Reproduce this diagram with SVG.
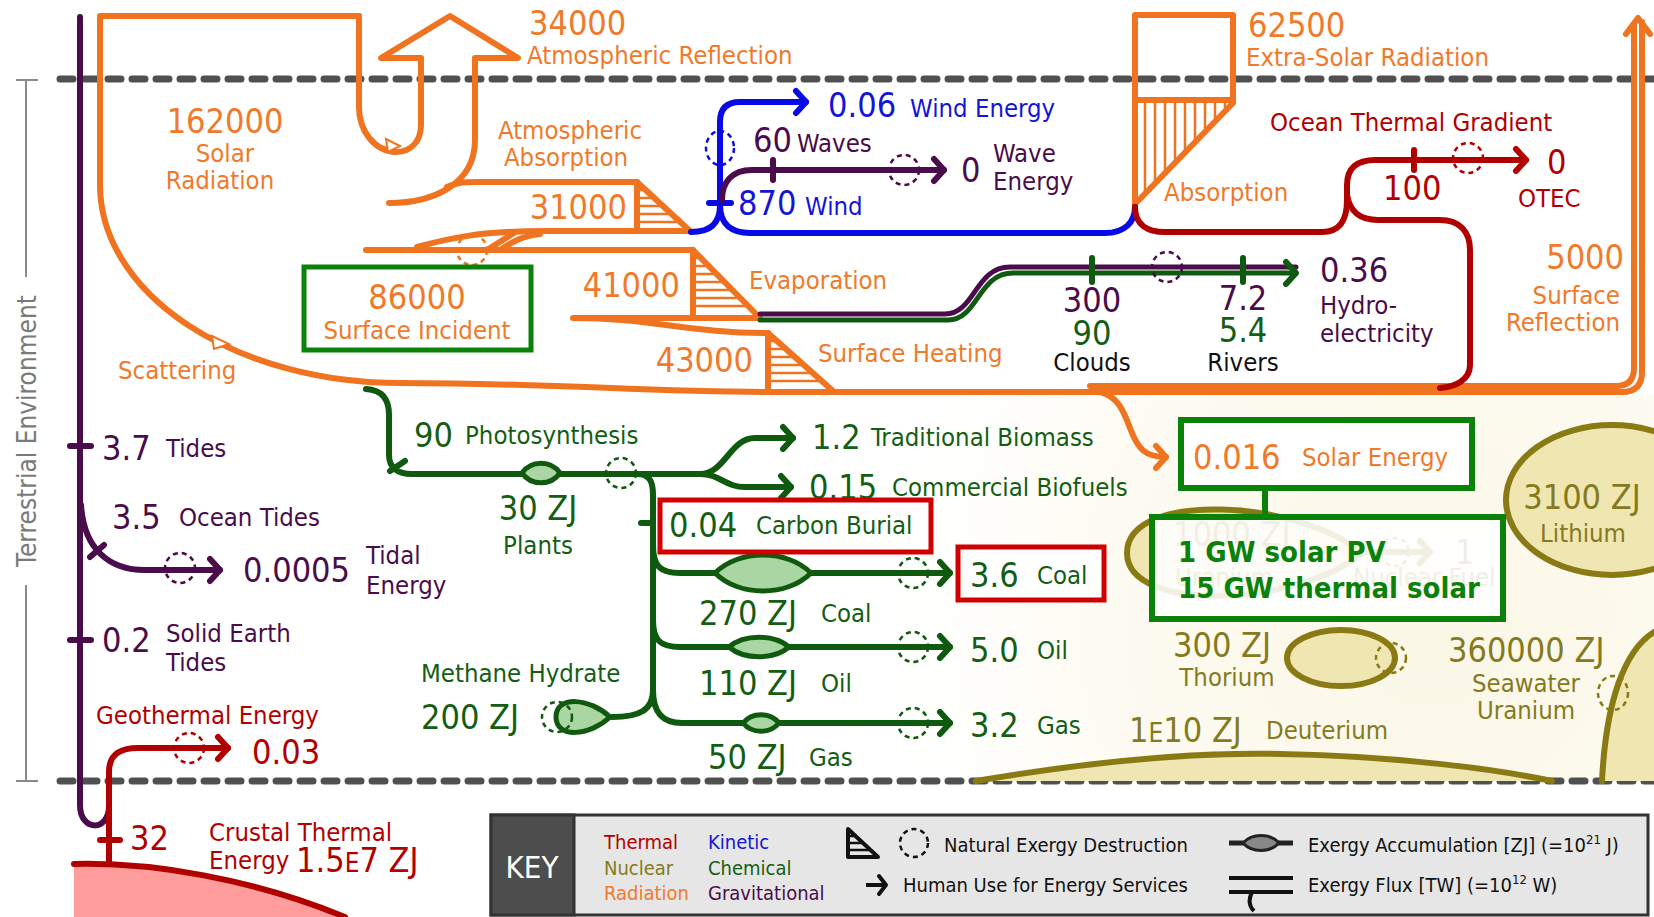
<svg xmlns="http://www.w3.org/2000/svg" width="1654" height="917" viewBox="0 0 1654 917">
<defs>
<style>
text{font-family:"DejaVu Sans Condensed","DejaVu Sans",sans-serif}
.L{font-size:25.5px}.N{font-size:34px}.K{font-size:20px}.B{font-size:29px;font-weight:bold}
.fo{fill:#f07a2a}.fr{fill:#b20000}.fb{fill:#1414d8}.fp{fill:#4a0c4a}.fg{fill:#145e14}.fn{fill:#857a20}.fk{fill:#111}.fw{fill:#fff}
.ln{fill:none;stroke-width:6;stroke-linecap:round;stroke-linejoin:round}
.so{stroke:#f07320}.sr{stroke:#b00000}.sb{stroke:#0a0ae6}.sp{stroke:#4a0c4a}.sg{stroke:#0f5a0f}.sn{stroke:#8a7a14}.sk{stroke:#111}
.dc{fill:none;stroke-width:2.5;stroke-dasharray:5 4}
.ht{fill:none;stroke-width:2.5}
.lens{fill:#a9d6a2;stroke:#0f5a0f;stroke-width:5}
.nuc{fill:#efe6b2;stroke:#8a7a14;stroke-width:6}
.mid{text-anchor:middle}.end{text-anchor:end}
</style>
<marker id="ao" viewBox="-14 -14 18 28" markerWidth="18" markerHeight="28" orient="auto" markerUnits="userSpaceOnUse" overflow="visible"><path d="M-10,-11 L0,0 L-10,11" fill="none" stroke="#f07320" stroke-width="6" stroke-linecap="round" stroke-linejoin="round"/></marker>
<marker id="ar" viewBox="-14 -14 18 28" markerWidth="18" markerHeight="28" orient="auto" markerUnits="userSpaceOnUse" overflow="visible"><path d="M-10,-11 L0,0 L-10,11" fill="none" stroke="#b00000" stroke-width="6" stroke-linecap="round" stroke-linejoin="round"/></marker>
<marker id="ab" viewBox="-14 -14 18 28" markerWidth="18" markerHeight="28" orient="auto" markerUnits="userSpaceOnUse" overflow="visible"><path d="M-10,-11 L0,0 L-10,11" fill="none" stroke="#0a0ae6" stroke-width="6" stroke-linecap="round" stroke-linejoin="round"/></marker>
<marker id="ap" viewBox="-14 -14 18 28" markerWidth="18" markerHeight="28" orient="auto" markerUnits="userSpaceOnUse" overflow="visible"><path d="M-10,-11 L0,0 L-10,11" fill="none" stroke="#4a0c4a" stroke-width="6" stroke-linecap="round" stroke-linejoin="round"/></marker>
<marker id="ag" viewBox="-14 -14 18 28" markerWidth="18" markerHeight="28" orient="auto" markerUnits="userSpaceOnUse" overflow="visible"><path d="M-10,-11 L0,0 L-10,11" fill="none" stroke="#0f5a0f" stroke-width="6" stroke-linecap="round" stroke-linejoin="round"/></marker>
<marker id="an" viewBox="-14 -14 18 28" markerWidth="18" markerHeight="28" orient="auto" markerUnits="userSpaceOnUse" overflow="visible"><path d="M-10,-11 L0,0 L-10,11" fill="none" stroke="#8a7a14" stroke-width="6" stroke-linecap="round" stroke-linejoin="round"/></marker>
<marker id="ak" viewBox="-14 -14 18 28" markerWidth="18" markerHeight="28" orient="auto" markerUnits="userSpaceOnUse" overflow="visible"><path d="M-7,-9 L0,0 L-7,9" fill="none" stroke="#111" stroke-width="4" stroke-linecap="round" stroke-linejoin="round"/></marker>
<radialGradient id="cream" cx="1430" cy="620" r="620" gradientUnits="userSpaceOnUse"><stop offset="0" stop-color="#fbf7e6"/><stop offset="0.55" stop-color="#fdfbf2"/><stop offset="1" stop-color="#ffffff" stop-opacity="0"/></radialGradient>
</defs>
<rect width="1654" height="917" fill="#fff"/>
<rect x="800" y="395" width="854" height="386" fill="url(#cream)"/>

<!-- boundaries -->
<g id="boundaries">
<path d="M60,79 H1654 M60,781 H1654" stroke="#505050" stroke-width="7" stroke-dasharray="13 11" stroke-linecap="round" fill="none"/>
<path d="M26,80 V277 M26,585 V781 M16,80 H38 M16,781 H38" stroke="#8a8a8a" stroke-width="2" fill="none"/>
<text class="mid" transform="translate(36,431) rotate(-90)" font-size="26" fill="#7a7a7a">Terrestrial Environment</text>
</g>

<!-- nuclear stocks -->
<g id="deuterium">
<path d="M976,781 C1100,760 1200,752 1281,754 C1400,756 1500,770 1552,781 Z" fill="#efe6b2"/>
<path class="ln sn" d="M976,781 C1100,760 1200,752 1281,754 C1400,756 1500,770 1552,781"/>
<text class="N fn" x="1129" y="742">1<tspan font-size="26">E</tspan>10 ZJ</text>
<text class="L fn" x="1266" y="739">Deuterium</text>
</g>
<g id="seawater-uranium">
<path d="M1602,781 C1606,700 1625,650 1654,632 V781 Z" fill="#efe6b2"/>
<path class="ln sn" d="M1602,781 C1606,700 1625,650 1654,632"/>
<ellipse class="dc sn" cx="1613" cy="693" rx="15" ry="17"/>
<text class="N fn" x="1448" y="662">360000 ZJ</text>
<text class="L fn mid" x="1526" y="692">Seawater</text>
<text class="L fn mid" x="1526" y="719">Uranium</text>
</g>
<g id="thorium">
<ellipse class="nuc" cx="1341" cy="658" rx="54" ry="28"/>
<circle class="dc sn" cx="1391" cy="658" r="15"/>
<text class="N fn" x="1173" y="657">300 ZJ</text>
<text class="L fn mid" x="1227" y="686">Thorium</text>
</g>
<g id="lithium">
<ellipse class="nuc" cx="1612" cy="500" rx="106" ry="75"/>
<text class="N fn mid" x="1582" y="509">3100 ZJ</text>
<text class="L fn mid" x="1583" y="542">Lithium</text>
</g>
<g id="uranium">
<path class="nuc" d="M1127,553 C1127,490 1300,500 1362,553 C1300,606 1127,614 1127,553 Z"/>
<circle class="dc sn" cx="1395" cy="552" r="14"/>
<path class="ln sn" d="M1362,552 H1430" marker-end="url(#an)"/>
<text class="N fn" x="1173" y="546">1000 ZJ</text>
<text class="L fn" x="1175" y="586">Uranium</text>
<text class="N fn" x="1455" y="564">1</text>
<text class="L fn" x="1353" y="586">Nuclear Fuel</text>
</g>

<!-- crust -->
<g id="crust">
<path d="M74,864 C150,862 250,878 345,917 L74,917 Z" fill="#ff9c9c"/>
<path class="ln sr" d="M74,864 C150,862 250,878 345,917"/>
<text class="L fr" x="209" y="841">Crustal Thermal</text>
<text class="L fr" x="209" y="869">Energy</text>
<text class="N fr" x="296" y="872">1.5<tspan font-size="26">E</tspan>7 ZJ</text>
</g>

<!-- connectors -->
<g id="connectors">
<path class="ln so" d="M359,16 H100 V185 A300 198 0 0 0 400,383 C560,383 640,392 770,392 H1622 Q1642,392 1642,372 V22"/>
<path class="ln so" d="M1090,386 H1616 Q1634,386 1634,368 V24"/>
<path class="ln so" d="M1626,34 L1638,18 L1650,34"/>
<path class="ln so" d="M359,16 V107 C359,132 375,151 396,152 C412,152 421,140 421,125 V58 H381 L450,16 L518,58 H475 V140 C475,185 432,203 389,203"/>
<path class="ln so" d="M447,187 C455,183 462,182 478,182 H637"/>
<path class="ln so" d="M637,182 V231 M637,182 L690,231 H547 C480,231 450,238 417,247"/>
<path class="ht so" d="M637,190 H645.7 M637,198 H654.3 M637,206 H663 M637,214 H671.6 M637,222 H680.3"/>
<path class="ln so" d="M487,250 L514,233 M500,250 C512,242 522,236 540,234"/>
<path class="ln so" d="M366,250 H693"/>
<circle class="dc so" cx="472" cy="250" r="15"/>
<path class="ln so" d="M693,250 V317 M693,250 L760,318 H573 C650,318 690,333 768,333"/>
<path class="ht so" d="M693,258 H701 M693,266 H709 M693,274 H717 M693,282 H725 M693,290 H733 M693,298 H741 M693,306 H749"/>
<path class="ln so" d="M768,333 V391 M768,333 L833,391"/>
<path class="ht so" d="M768,341 H777 M768,349 H786 M768,357 H795 M768,365 H804 M768,373 H813 M768,381 H822"/>
<polygon points="386,139 400,146 388,152" fill="#fff" stroke="#f07320" stroke-width="2"/>
<polygon points="212,336 229,344 214,349" fill="#fff" stroke="#f07320" stroke-width="2"/>
<path class="ln so" d="M1100,392 C1118,396 1124,412 1130,428 C1138,450 1146,457 1166,457" marker-end="url(#ao)"/>
<path class="ln so" d="M1135,207 V15 H1233 V103 L1137,202 M1135,100 H1233"/>
<path class="ht so" d="M1145,100 V192 M1155,100 V182 M1165,100 V171 M1175,100 V161 M1185,100 V150 M1195,100 V140 M1205,100 V129 M1215,100 V119 M1225,100 V108"/>
<path class="ln sb" d="M691,232 C712,232 720,222 720,205 V122 Q720,102 740,102 H806" marker-end="url(#ab)"/>
<path class="ln sb" d="M720,205 C720,225 732,233 750,233 H1105 C1125,233 1135,222 1135,207"/>
<path class="ln sb" d="M709,203 H731"/>
<ellipse class="dc sb" cx="720" cy="148" rx="14" ry="17"/>
<path class="ln sp" d="M722,200 C722,182 732,170 752,170 H944" marker-end="url(#ap)"/>
<path class="ln sp" d="M773,160 V180"/>
<circle class="dc sp" cx="904" cy="170" r="15"/>
<path class="ln sr" d="M1135,207 C1135,225 1148,232 1165,232 H1322 C1340,232 1347,220 1347,200 V185 C1347,168 1357,160 1375,160 H1526" marker-end="url(#ar)"/>
<path class="ln sr" d="M1347,195 C1350,212 1360,220 1378,220 H1440 C1460,220 1470,232 1470,250 V365 C1470,380 1455,387 1440,388"/>
<path class="ln sr" d="M1414,150 V170"/>
<circle class="dc sr" cx="1468" cy="158" r="15"/>
<path class="ln sp" style="stroke-width:5" d="M760,314 H945 C975,314 975,267 1010,267 H1296"/>
<path class="ln sg" style="stroke-width:5" d="M760,320 H948 C978,320 978,273 1013,273 H1296" marker-end="url(#ag)"/>
<path class="ln sg" d="M1092,258 V282 M1243,258 V282"/>
<circle class="dc sp" cx="1167" cy="267" r="15"/>
<path class="ln sp" d="M80,17 V805 C80,832 109,832 109,806"/>
<path class="ln sp" d="M70,446 H91 M70,640 H91 M90,557 L104,545"/>
<path class="ln sp" d="M81,505 C84,550 110,570 145,570 H220" marker-end="url(#ap)"/>
<circle class="dc sp" cx="180" cy="568" r="15"/>
<path class="ln sr" d="M109,864 V772 C109,756 118,748 138,748 H228" marker-end="url(#ar)"/>
<path class="ln sr" d="M100,840 H120"/>
<circle class="dc sr" cx="189" cy="748" r="15"/>
<path class="ln sg" d="M366,389 C383,390 389,400 389,415 V455 C389,468 398,474 412,474 H700"/>
<path class="ln sg" d="M390,471 L405,461"/>
<path class="ln sg" d="M700,474 C725,474 730,438 755,438 H793" marker-end="url(#ag)"/>
<path class="ln sg" d="M700,474 C720,474 725,487 745,487 H791" marker-end="url(#ag)"/>
<path class="ln sg" d="M637,474 C650,474 653,482 653,495 V690"/>
<path class="ln sg" d="M641,523 H653"/>
<path class="ln sg" d="M653,545 C653,566 660,573 680,573 H950" marker-end="url(#ag)"/>
<path class="ln sg" d="M653,620 C653,640 660,647 680,647 H950" marker-end="url(#ag)"/>
<path class="ln sg" d="M653,690 C653,712 662,723 682,723 H950" marker-end="url(#ag)"/>
<path class="ln sg" d="M653,690 C653,710 640,717 612,717"/>
<circle class="dc sg" cx="621" cy="473" r="15"/>
<circle class="dc sg" cx="913" cy="573" r="15"/>
<circle class="dc sg" cx="913" cy="647" r="15"/>
<circle class="dc sg" cx="913" cy="723" r="15"/>
<path class="ln sg" d="M1265,488 V517" style="stroke:#0a820a"/>
</g>

<!-- accumulations -->
<g id="plants"><path class="lens" d="M522,473 C531,460 551,460 560,473 C551,486 531,486 522,473 Z"/>
<text class="N fg mid" x="538" y="520">30 ZJ</text><text class="L fg mid" x="538" y="554">Plants</text></g>
<g id="coal-stock"><path class="lens" d="M715,573 C739,549 787,549 811,573 C787,597 739,597 715,573 Z"/>
<text class="N fg" x="699" y="625">270 ZJ</text><text class="L fg" x="821" y="622">Coal</text></g>
<g id="oil-stock"><path class="lens" d="M729,647 C744,634 774,634 789,647 C774,660 744,660 729,647 Z"/>
<text class="N fg" x="699" y="695">110 ZJ</text><text class="L fg" x="821" y="692">Oil</text></g>
<g id="gas-stock"><path class="lens" d="M743,723 C752,712 770,712 779,723 C770,734 752,734 743,723 Z"/>
<text class="N fg" x="708" y="769">50 ZJ</text><text class="L fg" x="809" y="766">Gas</text></g>
<g id="methane"><path class="lens" d="M556,717 C556,695 590,698 610,717 C590,736 556,739 556,717 Z"/>
<circle class="dc sg" cx="557" cy="717" r="15"/>
<text class="L fg" x="421" y="682">Methane Hydrate</text><text class="N fg" x="421" y="729">200 ZJ</text></g>

<!-- labels -->
<g id="solar-radiation"><text class="N fo mid" x="225" y="133">162000</text><text class="L fo mid" x="225" y="162">Solar</text><text class="L fo mid" x="220" y="189">Radiation</text></g>
<g id="atm-reflection"><text class="N fo" x="529" y="35">34000</text><text class="L fo" x="527" y="64">Atmospheric Reflection</text></g>
<g id="atm-absorption"><text class="L fo mid" x="570" y="139">Atmospheric</text><text class="L fo mid" x="566" y="166">Absorption</text><text class="N fo end" x="627" y="219">31000</text></g>
<g id="surface-incident"><rect x="304" y="267" width="227" height="83" fill="#fff" stroke="#0a820a" stroke-width="5"/>
<text class="N fo mid" x="417" y="309">86000</text><text class="L fo mid" x="417" y="339">Surface Incident</text></g>
<g id="evaporation"><text class="N fo end" x="680" y="297">41000</text><text class="L fo" x="749" y="289">Evaporation</text></g>
<g id="surface-heating"><text class="N fo end" x="753" y="372">43000</text><text class="L fo" x="818" y="362">Surface Heating</text></g>
<g id="scattering"><text class="L fo" x="118" y="379">Scattering</text></g>
<g id="extra-solar"><text class="N fo" x="1248" y="37">62500</text><text class="L fo" x="1246" y="66">Extra-Solar Radiation</text><text class="L fo" x="1164" y="201">Absorption</text></g>
<g id="surface-reflection"><text class="N fo end" x="1624" y="269">5000</text><text class="L fo end" x="1620" y="304">Surface</text><text class="L fo end" x="1620" y="331">Reflection</text></g>
<g id="wind-energy"><text class="N fb" x="828" y="117">0.06</text><text class="L fb" x="910" y="117">Wind Energy</text></g>
<g id="wind"><text class="N fb" x="738" y="215">870</text><text class="L fb" x="805" y="215">Wind</text></g>
<g id="waves"><text class="N fp" x="753" y="152">60</text><text class="L fp" x="797" y="152">Waves</text></g>
<g id="wave-energy"><text class="N fp" x="961" y="182">0</text><text class="L fp" x="993" y="162">Wave</text><text class="L fp" x="993" y="190">Energy</text></g>
<g id="ocean-thermal"><text class="L fr" x="1270" y="131">Ocean Thermal Gradient</text><text class="N fr" x="1383" y="200">100</text><text class="N fr" x="1547" y="174">0</text><text class="L fr" x="1518" y="207">OTEC</text></g>
<g id="clouds"><text class="N fp mid" x="1092" y="312">300</text><text class="N fg mid" x="1092" y="345">90</text><text class="L fk mid" x="1092" y="371">Clouds</text></g>
<g id="rivers"><text class="N fp mid" x="1243" y="310">7.2</text><text class="N fg mid" x="1243" y="342">5.4</text><text class="L fk mid" x="1243" y="371">Rivers</text></g>
<g id="hydro"><text class="N fp" x="1320" y="282">0.36</text><text class="L fp" x="1320" y="314">Hydro-</text><text class="L fp" x="1320" y="342">electricity</text></g>
<g id="tides"><text class="N fp" x="102" y="460">3.7</text><text class="L fp" x="166" y="457">Tides</text></g>
<g id="ocean-tides"><text class="N fp" x="112" y="529">3.5</text><text class="L fp" x="179" y="526">Ocean Tides</text></g>
<g id="tidal-energy"><text class="N fp" x="243" y="582">0.0005</text><text class="L fp" x="366" y="564">Tidal</text><text class="L fp" x="366" y="594">Energy</text></g>
<g id="solid-earth"><text class="N fp" x="102" y="652">0.2</text><text class="L fp" x="166" y="642">Solid Earth</text><text class="L fp" x="166" y="671">Tides</text></g>
<g id="geothermal"><text class="L fr" x="96" y="724">Geothermal Energy</text><text class="N fr" x="252" y="764">0.03</text><text class="N fr" x="130" y="850">32</text></g>
<g id="photosynthesis"><text class="N fg" x="414" y="447">90</text><text class="L fg" x="465" y="444">Photosynthesis</text></g>
<g id="biomass"><text class="N fg" x="812" y="449">1.2</text><text class="L fg" x="871" y="446">Traditional Biomass</text></g>
<g id="biofuels"><text class="N fg" x="809" y="499">0.15</text><text class="L fg" x="892" y="496">Commercial Biofuels</text></g>
<g id="carbon-burial"><rect x="660" y="500" width="271" height="52" fill="#fff" stroke="#d00000" stroke-width="5"/>
<text class="N fg" x="669" y="537">0.04</text><text class="L fg" x="756" y="534">Carbon Burial</text></g>
<g id="coal-use"><rect x="958" y="547" width="146" height="53" fill="#fff" stroke="#d00000" stroke-width="5"/>
<text class="N fg" x="970" y="587">3.6</text><text class="L fg" x="1037" y="584">Coal</text></g>
<g id="oil-use"><text class="N fg" x="970" y="662">5.0</text><text class="L fg" x="1037" y="659">Oil</text></g>
<g id="gas-use"><text class="N fg" x="970" y="737">3.2</text><text class="L fg" x="1037" y="734">Gas</text></g>
<g id="solar-energy"><rect x="1181" y="420" width="291" height="68" fill="#fff" stroke="#0a820a" stroke-width="6"/>
<text class="N fo" x="1193" y="469">0.016</text><text class="L fo" x="1302" y="466">Solar Energy</text></g>
<g id="solar-capacity"><rect x="1152" y="517" width="351" height="102" fill="#fff" fill-opacity="0.88" stroke="#0a820a" stroke-width="6"/>
<text class="B" x="1178" y="562" fill="#0a820a">1 GW solar PV</text><text class="B" x="1178" y="598" fill="#0a820a">15 GW thermal solar</text></g>

<!-- key -->
<g id="key">
<rect x="491" y="815" width="1157" height="100" fill="#e6e6e6" stroke="#333" stroke-width="3"/>
<rect x="491" y="815" width="83" height="100" fill="#4d4d4d" stroke="#333" stroke-width="3"/>
<text class="fw mid" x="532" y="878" font-size="31">KEY</text>
<text class="K fr" x="604" y="849">Thermal</text><text class="K fn" x="604" y="875">Nuclear</text><text class="K fo" x="604" y="900">Radiation</text>
<text class="K fb" x="708" y="849">Kinetic</text><text class="K fg" x="708" y="875">Chemical</text><text class="K fp" x="708" y="900">Gravitational</text>
<path d="M848,829 V857 H878 Z" fill="none" stroke="#111" stroke-width="4" stroke-linejoin="round"/>
<path class="ht sk" d="M848,836 H855 M848,843 H862 M848,850 H869"/>
<circle class="dc sk" cx="914" cy="843" r="14"/>
<text class="K fk" x="944" y="852">Natural Exergy Destruction</text>
<path d="M866,885 H886" stroke="#111" stroke-width="4" fill="none" marker-end="url(#ak)"/>
<text class="K fk" x="903" y="892">Human Use for Energy Services</text>
<path d="M1229,843 H1293" stroke="#222" stroke-width="5"/>
<path d="M1243,843 C1252,833 1270,833 1279,843 C1270,853 1252,853 1243,843 Z" fill="#888" stroke="#222" stroke-width="3"/>
<text class="K fk" x="1308" y="852">Exergy Accumulation [ZJ] (=10<tspan font-size="13" dy="-8">21</tspan><tspan dy="8"> J)</tspan></text>
<path d="M1229,878 H1293 M1229,892 H1293 M1252,892 C1248,900 1249,906 1254,911" stroke="#111" stroke-width="4" fill="none"/>
<text class="K fk" x="1308" y="892">Exergy Flux [TW] (=10<tspan font-size="13" dy="-8">12</tspan><tspan dy="8"> W)</tspan></text>
</g>
</svg>
